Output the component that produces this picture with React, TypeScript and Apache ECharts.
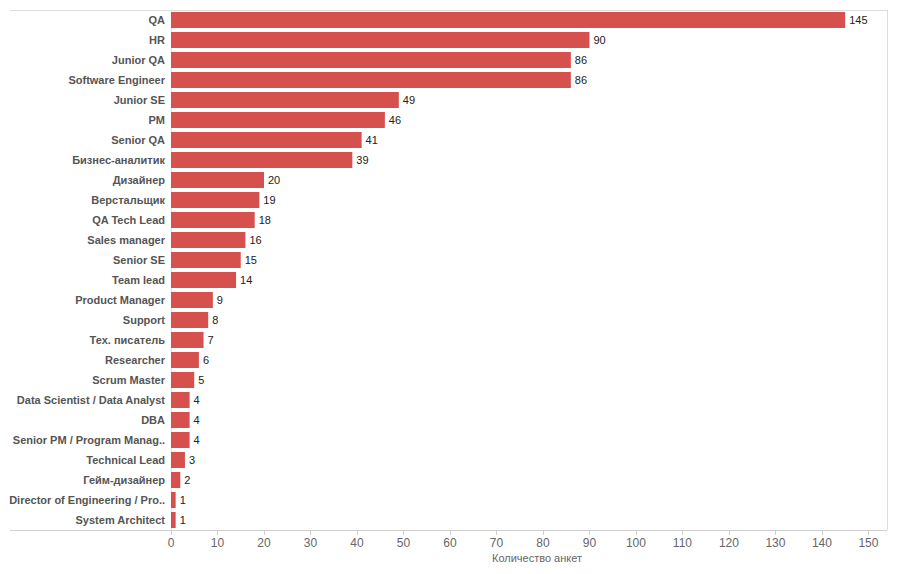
import React, { useEffect, useRef } from "react";
import * as echarts from "echarts";

const categories = [
  "QA", "HR", "Junior QA", "Software Engineer", "Junior SE", "PM", "Senior QA",
  "Бизнес-аналитик", "Дизайнер", "Верстальщик", "QA Tech Lead", "Sales manager",
  "Senior SE", "Team lead", "Product Manager", "Support", "Тех. писатель",
  "Researcher", "Scrum Master", "Data Scientist / Data Analyst", "DBA",
  "Senior PM / Program Manag..", "Technical Lead", "Гейм-дизайнер",
  "Director of Engineering / Pro..", "System Architect",
];
const values = [145, 90, 86, 86, 49, 46, 41, 39, 20, 19, 18, 16, 15, 14, 9, 8, 7, 6, 5, 4, 4, 4, 3, 2, 1, 1];
const axisTitle = "Количество анкет";

const FONT = "Arial, 'Liberation Sans', sans-serif";

export default function App() {
  const ref = useRef<HTMLDivElement>(null);
  useEffect(() => {
    if (!ref.current) return;
    const chart = echarts.init(ref.current, null, { renderer: "svg" });
    chart.setOption({
      animation: false,
      backgroundColor: "#ffffff",
      grid: { left: 171, top: 10, right: 11, bottom: 44, containLabel: false },
      xAxis: {
        type: "value",
        min: 0,
        max: 154,
        interval: 10,
        axisLine: { show: false },
        axisTick: { show: true, length: 5, lineStyle: { color: "#d0d0d0" } },
        splitLine: { show: false },
        axisLabel: {
          showMaxLabel: false,
          color: "#666666",
          fontSize: 12,
          fontFamily: FONT,
          margin: 7,
        },
      },
      yAxis: {
        type: "category",
        data: categories,
        inverse: true,
        axisLine: { show: true, lineStyle: { color: "#e2e2e2" } },
        axisTick: { show: false },
        axisLabel: {
          color: "#555555",
          fontSize: 11,
          fontWeight: "bold",
          fontFamily: FONT,
          margin: 6,
        },
      },
      series: [
        {
          type: "bar",
          data: values,
          barCategoryGap: "20%",
          itemStyle: { color: "#d6504d" },
          label: {
            show: true,
            position: "right",
            distance: 4,
            color: "#222222",
            fontSize: 11,
            fontFamily: FONT,
          },
        },
      ],
      graphic: [
        { type: "line", shape: { x1: 10, y1: 10.5, x2: 887, y2: 10.5 }, style: { stroke: "#dddddd", lineWidth: 1 } },
        { type: "line", shape: { x1: 10, y1: 530.5, x2: 887, y2: 530.5 }, style: { stroke: "#d0d0d0", lineWidth: 1 } },
        { type: "line", shape: { x1: 887.5, y1: 10, x2: 887.5, y2: 530 }, style: { stroke: "#dddddd", lineWidth: 1 } },
        {
          type: "text",
          x: 537,
          y: 558,
          style: {
            text: axisTitle,
            fill: "#666666",
            fontSize: 11,
            fontFamily: FONT,
            textAlign: "center",
            textVerticalAlign: "middle",
          },
        },
      ],
    });
    return () => chart.dispose();
  }, []);
  return (
    <div
      ref={ref}
      style={{ position: "absolute", left: 0, top: 0, width: 898, height: 574 }}
    />
  );
}
